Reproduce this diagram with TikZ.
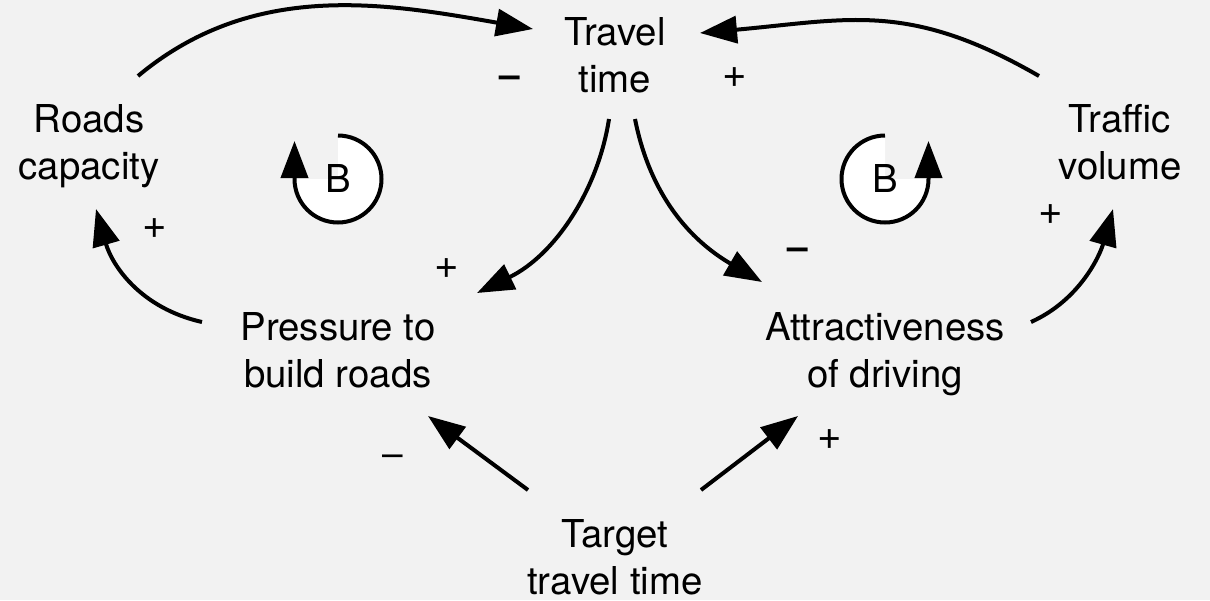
\documentclass[tikz,border=0pt]{standalone}
\usepackage{fontspec}
\setmainfont{TeX Gyre Heros}
\usetikzlibrary{arrows.meta,calc}
\definecolor{paper}{HTML}{F2F2F2}
\begin{document}
\begin{tikzpicture}[x=0.5pt,y=-0.5pt,
  % two-line labels are placed by the baseline of their last line
  lbl/.style={align=center, inner sep=0pt, anchor=base,
    font=\fontsize{19.2}{23.5}\selectfont},
  plussign/.style={inner sep=0pt, anchor=mid,
    font=\fontsize{21}{23.5}\selectfont},
  minussign/.style={inner sep=0pt, anchor=mid,
    font=\fontsize{18.5}{23.5}\selectfont},
  head/.style={-{Triangle[length=18.5pt,width=13.5pt]}},
  link/.style={line width=2pt, head},
  ring/.style={line width=2pt},
]
% canvas
\fill[paper] (0,0) rectangle (1210,600);
\useasboundingbox (0,0) rectangle (1210,600);

% variables
\node[lbl] (tt) at (615,92)  {Travel\\time};
\node[lbl] (rc) at (89,179)  {Roads\\capacity};
\node[lbl] (tv) at (1120,179) {Traffic\\volume};
\node[lbl] (pr) at (338,387) {Pressure to\\build roads};
\node[lbl] (ad) at (885,387) {Attractiveness\\of driving};
\node[lbl] (tg) at (615,594) {Target\\travel time};

% causal links
\draw[link] ([shift={(49,-103)}]rc.base)
  .. controls +(115,-96) and +(-148,-26) .. ([shift={(-82,-63)}]tt.base);
\draw[link] ([shift={(-81,-103)}]tv.base)
  .. controls +(-130,-75) and +(149,-13.5) .. ([shift={(85,-59)}]tt.base);
\draw[link] ([shift={(-6,27)}]tt.base)
  .. controls +(-11,71) and +(78,-38) .. ([shift={(139,-94)}]pr.base);
\draw[link] ([shift={(20,27)}]tt.base)
  .. controls +(15,76) and +(-72,-42) .. ([shift={(-123,-105)}]ad.base);
\draw[link] ([shift={(-136,-65)}]pr.base)
  .. controls +(-62,-14) and +(16,56) .. ([shift={(7,30)}]rc.base);
\draw[link] ([shift={(146,-65)}]ad.base)
  .. controls +(49,-22) and +(-13,46) .. ([shift={(-7,30)}]tv.base);
\draw[link] ([shift={(-87,-104)}]tg.base) -- ([shift={(90,29)}]pr.base);
\draw[link] ([shift={(86,-104)}]tg.base) -- ([shift={(-87,29)}]ad.base);

% polarities
\node[minussign] (s1) at (510,82)  {\textbf{–}};
\node[plussign]  (s2) at (735,82)  {+};
\node[plussign]  (s3) at (155,233) {+};
\node[plussign]  (s4) at (447,273) {+};
\node[minussign] (s5) at (798,254) {\textbf{–}};
\node[plussign]  (s6) at (1051,219) {+};
\node[minussign] (s7) at (393,461) {–};
\node[plussign]  (s8) at (830,444) {+};

% balancing loop markers
\coordinate (lcL) at (338,179);
\coordinate (lcR) at (885,179);
\fill[white] (lcL) -- ++(0,-43.5) arc[start angle=-90,end angle=180,radius=43.5] -- cycle;
\fill[white] (lcR) -- ++(0,-43.5) arc[start angle=-90,end angle=-360,radius=43.5] -- cycle;
\draw[ring, head] ([shift={(0,-43.5)}]lcL)
  arc[start angle=-90,end angle=180,radius=43.5] -- ++(0,-38);
\draw[ring, head] ([shift={(0,-43.5)}]lcR)
  arc[start angle=-90,end angle=-360,radius=43.5] -- ++(0,-38);
\node[lbl] (bL) at ([shift={(0,13)}]lcL) {B};
\node[lbl] (bR) at ([shift={(0,13)}]lcR) {B};
\end{tikzpicture}
\end{document}
